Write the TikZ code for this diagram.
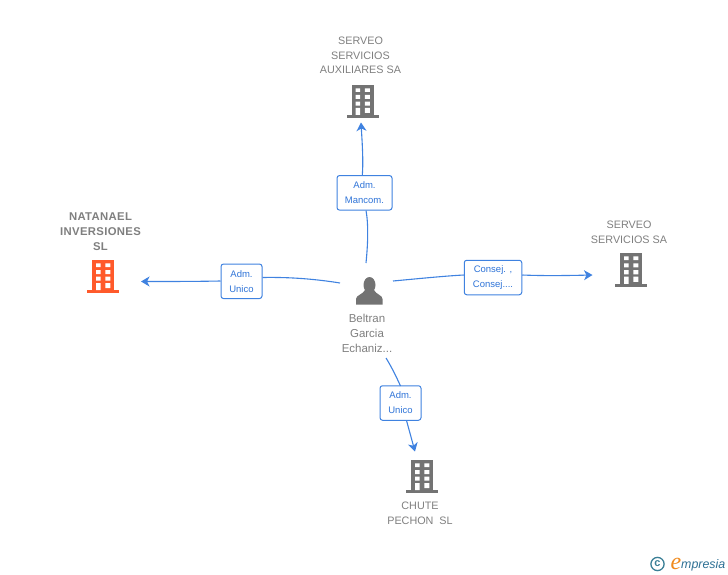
\documentclass[tikz,border=0pt]{standalone}
\usepackage{fontspec}
\setmainfont{Liberation Sans}
\newfontfamily\logoserif{Liberation Serif}
\usetikzlibrary{arrows.meta}
\definecolor{linkblue}{HTML}{3F82E0}
\definecolor{labelblue}{HTML}{2F74D8}
\definecolor{greytext}{HTML}{7F7F7F}
\definecolor{icongrey}{HTML}{737373}
\definecolor{iconred}{HTML}{FF5A2B}
\definecolor{logoteal}{HTML}{3A7F96}
\definecolor{logoorange}{HTML}{F08A1D}
\definecolor{logoblue}{HTML}{2C6F93}
\newcommand{\bldg}[4]{% cx, top, height, colour
 \begin{scope}[shift={(#1,#2)},yscale=#3/33]
  \fill[#4] (-11,0) rectangle (11,30);
  \fill[#4] (-16,30) rectangle (16,33);
  \fill[white] (-7,3.3) rectangle (-2.3,7) (2.3,3.3) rectangle (7.3,7)
   (-7,10) rectangle (-2.3,14) (2.3,10) rectangle (7.3,14)
   (-7,16.7) rectangle (-2.3,20.7) (2.3,16.7) rectangle (7.3,20.7)
   (-7,23) rectangle (-2.3,30) (2.3,23) rectangle (7.3,28);
 \end{scope}}
\tikzset{
 txt/.style={font=\fontsize{10.8}{14.6}\selectfont,text=greytext,align=center,inner sep=0pt},
 boldtxt/.style={font=\fontsize{11.3}{15}\selectfont\bfseries\addfontfeature{LetterSpace=3},text=greytext,align=center,inner sep=0pt},
 lab/.style={draw=linkblue,line width=1pt,rounded corners=2.5pt,fill=white,text=labelblue,
   font=\fontsize{9.5}{15}\selectfont,align=center,inner sep=0pt,minimum height=34.5pt},
 link/.style={draw=linkblue,line width=1.1pt},
 tip/.style={-{Stealth[length=8.5pt,width=10pt,inset=2.5pt]}}
}
\begin{document}
\begin{tikzpicture}[x=1pt,y=-1pt]
\useasboundingbox (0,0) rectangle (728,575);
% buildings
\bldg{362.5}{85}{33}{icongrey}
\bldg{103}{260}{33}{iconred}
\bldg{631}{253}{34}{icongrey}
\bldg{422}{460}{33}{icongrey}
% person
\fill[icongrey] (369.5,285) ellipse (6pt and 8pt);
\fill[icongrey] (356,304.5) -- (356,299) .. controls (356,295) and (363,294.5) .. (365,290)
 -- (374,290) .. controls (376,294.5) and (382.5,295) .. (382.5,299) -- (382.5,304.5) -- cycle;
% texts
\node[txt] (t1) at (360.5,55.5) {SERVEO\\SERVICIOS\\AUXILIARES SA};
\node[boldtxt] (t2) at (100.5,231.5) {NATANAEL\\INVERSIONES\\SL};
\node[txt] (t3) at (629,232) {SERVEO\\SERVICIOS SA};
\node[txt] (t4) at (420,513.5) {CHUTE\\PECHON\ \ SL};
\node[txt,font=\fontsize{11.5}{15}\selectfont] (t5) at (367,333.5) {Beltran\\Garcia\\Echaniz...};
% connector ends
\coordinate (ptop) at (366,263);
\coordinate (pleft) at (340,283);
\coordinate (pright) at (393,281);
\coordinate (pdown) at (386,358);
\coordinate (etop) at (361,122.5);
\coordinate (eleft) at (141,281.5);
\coordinate (eright) at (592.5,275);
\coordinate (edown) at (415,451.5);
% labels
\node[lab,minimum width=55pt] (l1) at (364.5,192.8) {Adm.\\Mancom.};
\node[lab,minimum width=41pt] (l2) at (241.5,281.3) {Adm.\\Unico};
\node[lab,minimum width=57.5pt] (l3) at (493,277.5) {Consej. ,\\Consej....};
\node[lab,minimum width=41pt] (l4) at (400.5,403) {Adm.\\Unico};
% connectors
\path[link] (ptop) .. controls (368,243) and (368.5,225) .. (l1.-85);
\path[link,tip] (l1.97) .. controls (363.5,160) and (362,140) .. (etop);
\path[link] (pleft) .. controls (315,279) and (290,277) .. (l2.east |- 0,277.5);
\path[link,tip] (l2.west |- 0,281) .. controls (195,281.5) and (170,281.5) .. (eleft);
\path[link] (pright) .. controls (420,278.5) and (445,276) .. (l3.west |- 0,275);
\path[link,tip] (l3.east |- 0,275) .. controls (545,276) and (570,275.5) .. (eright);
\path[link] (pdown) .. controls (391,366) and (396,376) .. (l4.north |- 0,386);
\path[link,tip] (406.5,420.5) -- (edown);
% logo
\draw[logoteal,line width=1.3pt] (657.5,564) circle (6.6pt);
\node[inner sep=0pt,text=logoteal,font=\fontsize{11}{11}\selectfont\bfseries] (c) at (657.5,563.5) {c};
\node[inner sep=0pt,text=logoorange,font=\fontsize{24}{24}\selectfont\logoserif\itshape] (e) at (676,564) {e};
\node[inner sep=0pt,anchor=west,text=logoblue,font=\fontsize{12.4}{13}\selectfont\itshape] (m) at (681,565) {mpresia};
\end{tikzpicture}
\end{document}
